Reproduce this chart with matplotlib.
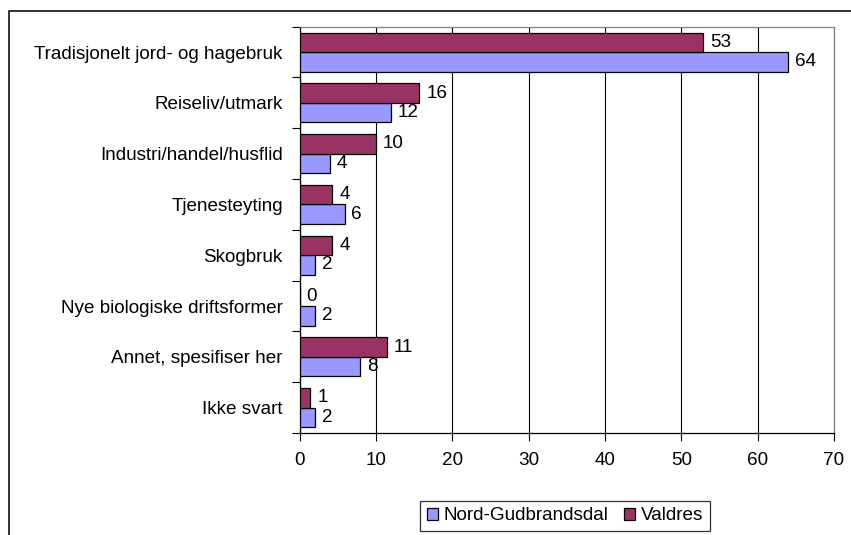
import matplotlib
matplotlib.use("Agg")
import matplotlib.pyplot as plt
from matplotlib.lines import Line2D

plt.rcParams['font.family'] = ['Liberation Sans', 'DejaVu Sans']

categories = ["Tradisjonelt jord- og hagebruk", "Reiseliv/utmark", "Industri/handel/husflid",
              "Tjenesteyting", "Skogbruk", "Nye biologiske driftsformer",
              "Annet, spesifiser her", "Ikke svart"]
nord_gudbrandsdal = [64.0, 12.0, 4.0, 5.9, 2.0, 2.0, 7.9, 2.0]
valdres = [52.9, 15.7, 10.0, 4.3, 4.3, 0.0, 11.4, 1.4]
x_ticks = [0, 10, 20, 30, 40, 50, 60, 70]

fs = 13.6
h = 0.384

fig = plt.figure(figsize=(8.51, 5.35), dpi=100)
ax = fig.add_axes([299.5 / 851, 1 - 433 / 535, (834 - 299.5) / 851, (433 - 26.7) / 535])

pos = list(range(len(categories)))
pos_v = [p - h / 2 for p in pos]
pos_n = [p + h / 2 for p in pos]

bars_n = ax.barh(pos_n, nord_gudbrandsdal, height=h, color="#9999FF",
                 edgecolor="black", linewidth=0.9, label="Nord-Gudbrandsdal", zorder=3)
bars_v = ax.barh(pos_v, valdres, height=h, color="#993366",
                 edgecolor="black", linewidth=0.9, label="Valdres", zorder=3)

ax.bar_label(bars_v, labels=[f"{v:.0f}" for v in valdres], padding=5, fontsize=fs)
ax.bar_label(bars_n, labels=[f"{v:.0f}" for v in nord_gudbrandsdal], padding=5, fontsize=fs)

ax.set_xlim(0, 70)
ax.set_ylim(len(categories) - 0.5, -0.5)

ax.set_xticks(x_ticks)
ax.tick_params(axis="x", direction="out", length=6, width=0.8, labelsize=fs, pad=8)
ax.xaxis.grid(True, color="black", linewidth=0.8, zorder=0)

# category boundaries as major ticks, names as minor
ax.set_yticks([p - 0.5 for p in range(len(categories) + 1)])
ax.set_yticklabels([])
ax.set_yticks(pos, minor=True)
ax.set_yticklabels(categories, minor=True)
ax.tick_params(axis="y", which="major", direction="out", length=6, width=0.8)
ax.tick_params(axis="y", which="minor", length=0, labelsize=fs, pad=12)

for s in ["left", "bottom"]:
    ax.spines[s].set_color("black")
    ax.spines[s].set_linewidth(0.9)
for s in ["top", "right"]:
    ax.spines[s].set_color("#808080")
    ax.spines[s].set_linewidth(0.9)

handles, labels = ax.get_legend_handles_labels()
leg = fig.legend(handles, labels, loc="center", bbox_to_anchor=(565 / 851, 1 - 516 / 535),
                 ncol=2, fontsize=fs, frameon=True, fancybox=False, edgecolor="black",
                 handlelength=0.6, handleheight=0.6, handletextpad=0.3, columnspacing=0.8,
                 borderpad=0.35)
leg.get_frame().set_linewidth(0.9)

# outer chart border
fig.add_artist(Line2D([8.5 / 851, 8.5 / 851, 1.0], [0.0, 1 - 11 / 535, 1 - 11 / 535],
                      color="#222222", linewidth=1.3, transform=fig.transFigure))

fig.savefig("out.png", dpi=100)
